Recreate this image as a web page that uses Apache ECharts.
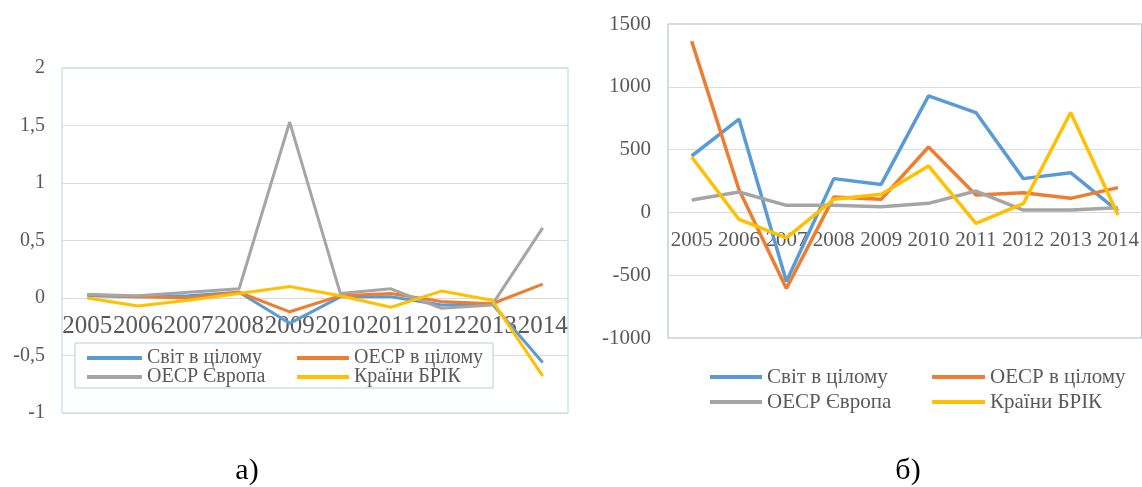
<!DOCTYPE html>
<html>
<head>
<meta charset="utf-8">
<script src="https://cdn.jsdelivr.net/npm/echarts@6/dist/echarts.min.js"></script>
<style>
html,body{margin:0;padding:0;background:#fff;}
#c{width:1142px;height:487px;}
</style>
</head>
<body>
<div id="c"></div>
<script>
// Categories
const years = ['2005','2006','2007','2008','2009','2010','2011','2012','2013','2014'];
const seriesNames = ['Світ в цілому','ОЕСР в цілому','ОЕСР Європа','Країни БРІК'];

// Chart a)
const worldA  = [0.02, 0.01, 0.02, 0.05, -0.22, 0.01, 0.01, -0.06, -0.05, -0.56];
const oecdA   = [0.03, 0.01, 0.00, 0.05, -0.12, 0.02, 0.04, -0.03, -0.05, 0.12];
const europeA = [0.03, 0.02, 0.05, 0.08, 1.53, 0.04, 0.08, -0.09, -0.06, 0.61];
const bricA   = [0.00, -0.07, -0.02, 0.04, 0.10, 0.02, -0.08, 0.06, -0.02, -0.68];

// Chart б)
const worldB  = [449, 742, -550, 269, 223, 928, 795, 269, 316, 10];
const oecdB   = [1362, 180, -605, 122, 104, 521, 138, 157, 112, 197];
const europeB = [98, 162, 56, 56, 45, 72, 170, 19, 19, 37];
const bricB   = [441, -56, -202, 104, 144, 370, -88, 69, 795, -21];

// Axis ranges
const yA = {min:-1, max:2, interval:0.5};
const yB = {min:-1000, max:1500, interval:500};

const colors = ['#5b9bd5','#ed7d31','#a5a5a5','#ffc000'];
const serif = 'Liberation Serif';
const txt = '#595959';

const gridA = {left:62, top:68, width:506, height:345};
const gridB = {left:668, top:24, width:474, height:314};
// x axis sits at the value 0 line: shift from bottom by the scale position of 0
const offA = -((0 - yA.min) / (yA.max - yA.min)) * gridA.height;
const offB = -((0 - yB.min) / (yB.max - yB.min)) * gridB.height;

const chart = echarts.init(document.getElementById('c'), null, {renderer:'canvas'});

function mkSeries(name, data, idx, color, width){
  return {name, type:'line', xAxisIndex:idx, yAxisIndex:idx, data,
    showSymbol:false, symbol:'none', lineStyle:{color, width}, itemStyle:{color}, z: 2};
}
function mkLegend(name, left, cy, fs, iw){
  return {data:[name], left, top: cy - fs/2 - 1, padding:0, itemWidth: iw, itemHeight:4,
    icon:'rect', textStyle:{fontFamily:serif, fontSize:fs, color:txt}, selectedMode:false};
}

const option = {
  animation:false,
  color: colors,
  grid:[
    Object.assign({show:true, borderColor:'#b4d0ea', borderWidth:1, backgroundColor:'transparent'}, gridA),
    Object.assign({show:true, borderColor:'#a7b8cb', borderWidth:1, backgroundColor:'transparent'}, gridB)
  ],
  xAxis:[
    {type:'category', gridIndex:0, data:years, boundaryGap:true, offset:offA,
     axisLine:{show:true, onZero:false, lineStyle:{color:'#d9d9d9', width:1}},
     axisTick:{show:false},
     axisLabel:{interval:0, margin:16, fontFamily:serif, fontSize:25, color:txt}},
    {type:'category', gridIndex:1, data:years, boundaryGap:true, offset:offB,
     axisLine:{show:true, onZero:false, lineStyle:{color:'#d9d9d9', width:1}},
     axisTick:{show:false},
     axisLabel:{interval:0, margin:18, fontFamily:serif, fontSize:21, color:txt}}
  ],
  yAxis:[
    {type:'value', gridIndex:0, min:yA.min, max:yA.max, interval:yA.interval,
     axisLine:{show:false}, axisTick:{show:false},
     splitLine:{show:true, lineStyle:{color:'#dcdcdc'}},
     axisLabel:{margin:17, fontFamily:serif, fontSize:20, color:txt,
       formatter: v => String(v).replace('.', ',')}},
    {type:'value', gridIndex:1, min:yB.min, max:yB.max, interval:yB.interval,
     axisLine:{show:false}, axisTick:{show:false},
     splitLine:{show:true, lineStyle:{color:'#dcdcdc'}},
     axisLabel:{margin:17, fontFamily:serif, fontSize:21, color:txt,
       formatter: v => String(v)}}
  ],
  legend:[
    mkLegend(seriesNames[0], 87, 359, 20, 55),
    mkLegend(seriesNames[1], 297, 359, 20, 52),
    mkLegend(seriesNames[2], 87, 378, 20, 55),
    mkLegend(seriesNames[3], 297, 378, 20, 52),
    mkLegend(seriesNames[0], 710, 378, 21, 52),
    mkLegend(seriesNames[1], 932, 378, 21, 53),
    mkLegend(seriesNames[2], 710, 403, 21, 52),
    mkLegend(seriesNames[3], 932, 403, 21, 53)
  ],
  graphic:[
    {type:'rect', z:3, shape:{x:75, y:343, width:418, height:45},
     style:{fill:'#fff', stroke:'#b4cce4', lineWidth:1}},
    {type:'text', z:5, style:{text:'а)', x:247, y:471, textAlign:'center', textVerticalAlign:'middle',
      font:'30px "Liberation Serif"', fill:'#000'}},
    {type:'text', z:5, style:{text:'б)', x:908, y:471, textAlign:'center', textVerticalAlign:'middle',
      font:'30px "Liberation Serif"', fill:'#000'}}
  ],
  series:[
    mkSeries(seriesNames[0], worldA, 0, colors[0], 3),
    mkSeries(seriesNames[1], oecdA, 0, colors[1], 3),
    mkSeries(seriesNames[2], europeA, 0, colors[2], 3),
    mkSeries(seriesNames[3], bricA, 0, colors[3], 3),
    mkSeries(seriesNames[0], worldB, 1, colors[0], 3.5),
    mkSeries(seriesNames[1], oecdB, 1, colors[1], 3.5),
    mkSeries(seriesNames[2], europeB, 1, colors[2], 3.5),
    mkSeries(seriesNames[3], bricB, 1, colors[3], 3.5)
  ]
};
chart.setOption(option);
</script>
</body>
</html>
